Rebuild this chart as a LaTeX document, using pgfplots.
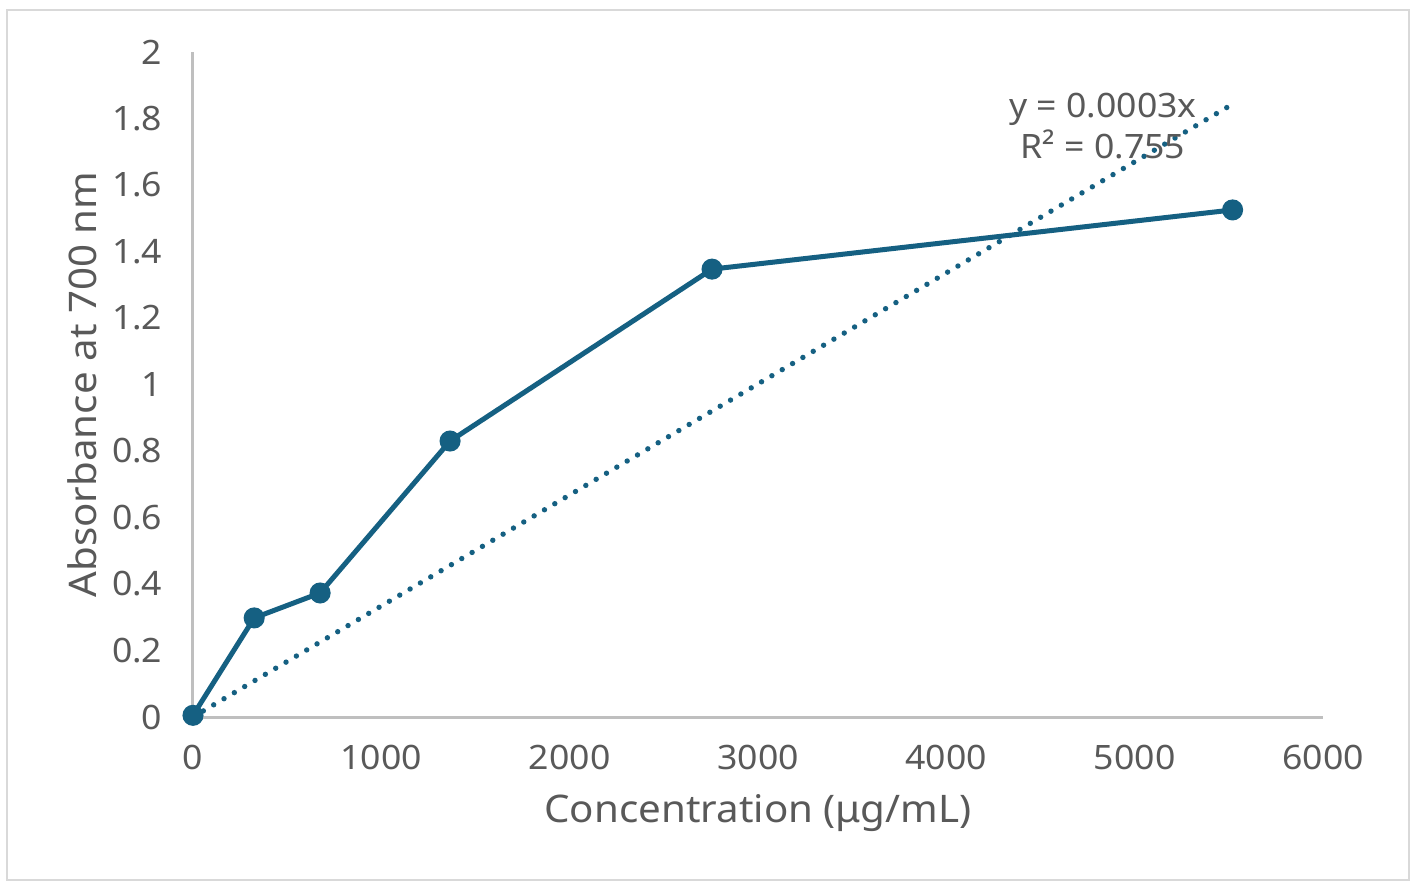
\documentclass[border=0pt]{standalone}
\usepackage{fontspec}
\setmainfont{Noto Sans}[FakeStretch=1.06]
\usepackage{pgfplots}
\pgfplotsset{compat=1.18}
\definecolor{serie}{HTML}{156082}
\definecolor{txt}{HTML}{595959}
\definecolor{axl}{HTML}{BFBFBF}
\definecolor{brd}{HTML}{D9D9D9}
\begin{document}
\begin{tikzpicture}
\useasboundingbox (0,0) rectangle (707pt,442pt);
\fill[white] (0,0) rectangle (707pt,442pt);
\draw[brd, line width=1.25pt] (3.5pt,2pt) rectangle (704.5pt,437pt);
\begin{axis}[
  at={(96.5pt,83.5pt)}, anchor=south west,
  scale only axis, width=565pt, height=332.5pt,
  xmin=0, xmax=6000, ymin=0, ymax=2,
  axis x line=bottom, axis y line=left,
  axis line style={draw=axl, line width=1.5pt, -},
  tick style={draw=none},
  scaled ticks=false,
  clip=false,
  /pgf/number format/assume math mode=true,
  xtick={0,1000,2000,3000,4000,5000,6000},
  xticklabels={0,1000,2000,3000,4000,5000,6000},
  ytick={0,0.2,0.4,0.6,0.8,1,1.2,1.4,1.6,1.8,2},
  yticklabels={0,0.2,0.4,0.6,0.8,1,1.2,1.4,1.6,1.8,2},
  ticklabel style={font=\fontsize{16.8}{20}\selectfont, text=txt},
  yticklabel style={anchor=east, inner sep=0pt, xshift=-13pt},
  xticklabel style={anchor=north, inner sep=0pt, yshift=-11.5pt},
  xlabel={Concentration (μg/mL)},
  ylabel={Absorbance at 700 nm},
  xlabel style={at={(axis description cs:0.5,-0.1594)}, anchor=base, inner sep=0pt, font=\fontsize{19}{22}\selectfont, text=txt},
  ylabel style={at={(axis description cs:-0.0982,0.5)}, anchor=center, inner sep=0pt, font=\fontsize{19}{22}\selectfont, text=txt},
]
\addplot[color=serie, line width=2.5pt, mark=*, mark size=4pt, mark options={solid, fill=serie}]
  coordinates {(0,0.005) (325,0.298) (675,0.373) (1365,0.83) (2756,1.347) (5520,1.525)};
\addplot[color=serie, line width=2.7pt, line cap=round, dash pattern=on 0pt off 6pt]
  coordinates {(0,0) (5540,1.85)};
\node[anchor=base, inner sep=0pt, text=txt, font=\fontsize{16.8}{20}\selectfont] at (axis cs:4832,1.8015) {y = 0.0003x};
\node[anchor=base, inner sep=0pt, text=txt, font=\fontsize{16.8}{20}\selectfont] at (axis cs:4832,1.681) {R² = 0.755};
\end{axis}
\end{tikzpicture}
\end{document}
